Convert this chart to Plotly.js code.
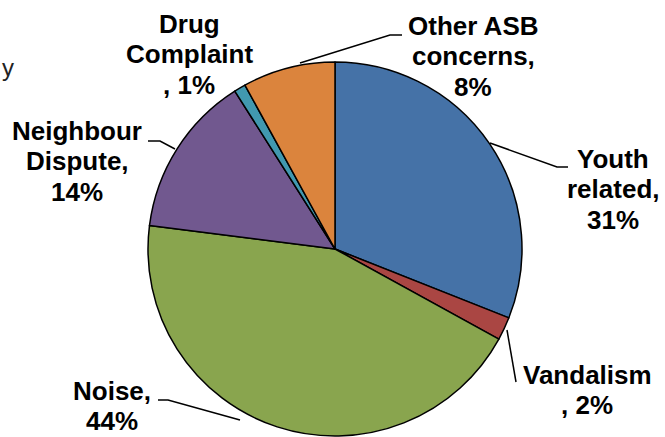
<!DOCTYPE html>
<html>
<head>
<meta charset="utf-8">
<script src="https://cdn.plot.ly/plotly-3.0.1.min.js"></script>
<style>html,body{margin:0;padding:0;background:#fff;}#chart{width:665px;height:437px;}</style>
</head>
<body>
<div id="chart"></div>
<script>
// Data
const categories = ["Youth related", "Vandalism", "Noise", "Neighbour Dispute", "Drug Complaint", "Other ASB concerns"];
const values = [31, 2, 44, 14, 1, 8];
const colors = ["#4572A7", "#AA4643", "#89A54E", "#71588F", "#4198AF", "#DB843D"];
// label lines as wrapped in the reference
const labelLines = [
  ["Youth", "related,", "31%"],
  ["Vandalism", ", 2%"],
  ["Noise,", "44%"],
  ["Neighbour", "Dispute,", "14%"],
  ["Drug", "Complaint", ", 1%"],
  ["Other ASB", "concerns,", "8%"]
];

const W = 665, H = 437;
const px = x => x / W;
const py = y => 1 - y / H;

// label placement: centre x and first baseline y (pixels), line step
const labelPos = [[613, 168], [587, 384], [112, 400], [77, 140], [189, 33], [473, 35]];
const lineStep = 30.5;
const leaders = [
  [[490, 143], [557, 167], [568, 167]],
  [[507, 330], [516, 382]],
  [[240, 420], [168, 400], [158, 400]],
  [[175, 149], [160, 141], [148, 141]],
  null,
  [[300, 63], [390, 35], [402, 35]]
];

const trace = {
  type: "pie",
  labels: categories,
  values: values,
  sort: false,
  direction: "clockwise",
  rotation: 0,
  textinfo: "none",
  hoverinfo: "label+percent",
  marker: { colors: colors, line: { color: "#000000", width: 1.5 } },
  domain: { x: [148 / W, 522 / W], y: [1 / H, 375 / H] },
  showlegend: false
};

const FS = 26;
const annotations = [];
labelLines.forEach((lines, i) => {
  lines.forEach((t, k) => {
    const base = labelPos[i][1] + k * lineStep;
    annotations.push({
      xref: "paper", yref: "paper",
      x: px(labelPos[i][0]), y: py(base - 0.35 * FS),
      xanchor: "center", yanchor: "middle",
      text: "<b>" + t + "</b>",
      showarrow: false,
      font: { family: "Liberation Sans, Arial, sans-serif", size: FS, color: "#000000" }
    });
  });
});
annotations.push({
  xref: "paper", yref: "paper", x: 0, y: py(68), xanchor: "left", yanchor: "middle",
  text: "y", showarrow: false,
  font: { family: "Liberation Sans, Arial, sans-serif", size: 24, color: "#222222" }
});

const shapes = leaders.filter(l => l).map(pts => ({
  type: "path", xref: "paper", yref: "paper",
  path: pts.map((p, k) => (k ? "L" : "M") + px(p[0]) + "," + py(p[1])).join(" "),
  line: { color: "#000000", width: 1.5 }
}));

const layout = {
  width: W, height: H,
  margin: { l: 0, r: 0, t: 0, b: 0 },
  paper_bgcolor: "#ffffff",
  plot_bgcolor: "#ffffff",
  annotations: annotations,
  shapes: shapes
};

Plotly.newPlot("chart", [trace], layout, { displayModeBar: false, staticPlot: true });
</script>
</body>
</html>
